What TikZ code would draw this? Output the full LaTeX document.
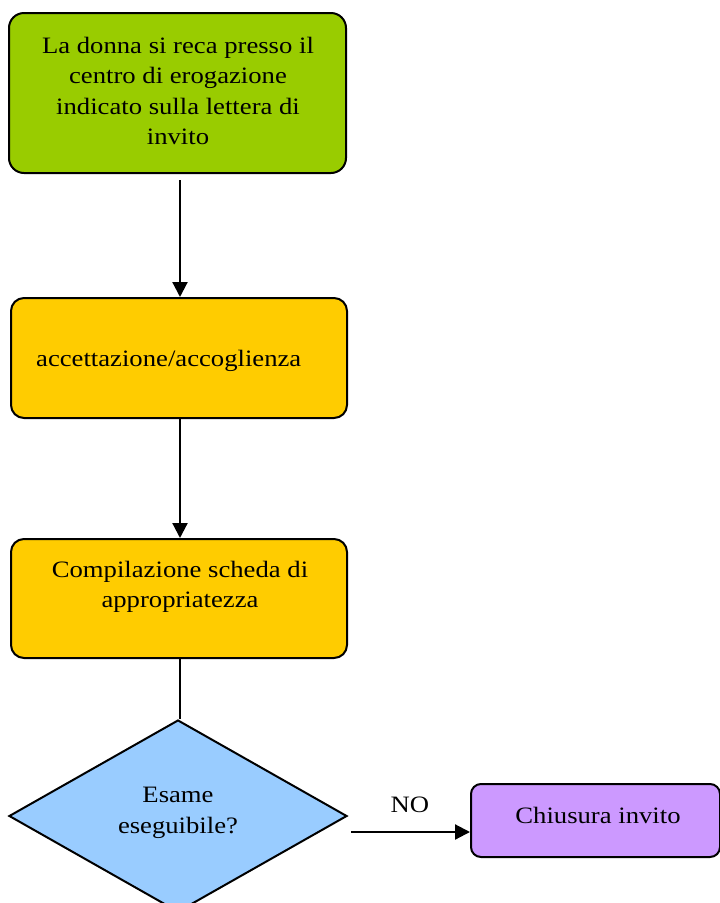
\documentclass[tikz,border=0pt]{standalone}
\usepackage{fontspec}
\setmainfont{Liberation Serif}[FakeStretch=1.135]
\usetikzlibrary{shapes.geometric,arrows.meta}
\definecolor{stepgreen}{HTML}{99CC00}
\definecolor{stepyellow}{HTML}{FFCC00}
\definecolor{decisionblue}{HTML}{99CCFF}
\definecolor{endviolet}{HTML}{CC99FF}
\begin{document}
\begin{tikzpicture}[x=1pt,y=-1pt,
  every node/.style={font=\fontsize{23.5}{30.5}\selectfont},
  flowbox/.style={draw=black,line width=2pt,rectangle,inner sep=0pt},
  txt/.style={align=center,inner sep=0pt},
  flowarrow/.style={line width=2.2pt,-{Triangle[length=15pt,width=15pt]}},
  flowline/.style={line width=2.2pt}]
\useasboundingbox (0,0) rectangle (720,903);

% start box
\node[flowbox,fill=stepgreen,rounded corners=15pt,minimum width=337pt,minimum height=160pt] (start) at (177.5,93) {};
\node[txt] (starttxt) at (178,91) {La donna si reca presso il\\centro di erogazione\\indicato sulla lettera di\\invito};

% reception
\node[flowbox,fill=stepyellow,rounded corners=13pt,minimum width=336pt,minimum height=120pt] (accept) at (179,358) {};
\node[txt,anchor=west] (accepttxt) at (36,361) {accettazione/accoglienza};

% appropriateness form
\node[flowbox,fill=stepyellow,rounded corners=13pt,minimum width=336pt,minimum height=119pt] (form) at (179,598.5) {};
\node[txt] (formtxt) at (180,587) {Compilazione scheda di\\appropriatezza};

% decision
\node[diamond,draw=black,line width=2pt,fill=decisionblue,minimum width=338pt,minimum height=192pt,inner sep=0pt] (check) at (178,816) {};
\node[txt] (checktxt) at (178,813) {Esame\\eseguibile?};

% closing
\node[flowbox,fill=endviolet,rounded corners=10pt,minimum width=249pt,minimum height=73pt] (close) at (595.5,820.5) {};
\node[txt] (closetxt) at (598,815) {Chiusura invito};

% connectors
\draw[flowarrow,shorten <=6pt] (start.south -| 180,0) -- (accept.north -| 180,0);
\draw[flowarrow] (accept.south -| 180,0) -- (form.north -| 180,0);
\draw[flowline] (form.south -| 180,0) -- (check.north -| 180,0);
\coordinate (nostart) at (351,832);
\draw[flowarrow] (nostart) -- (nostart -| close.west);
\node[txt] (nolabel) at (410,805) {NO};
\end{tikzpicture}
\end{document}
